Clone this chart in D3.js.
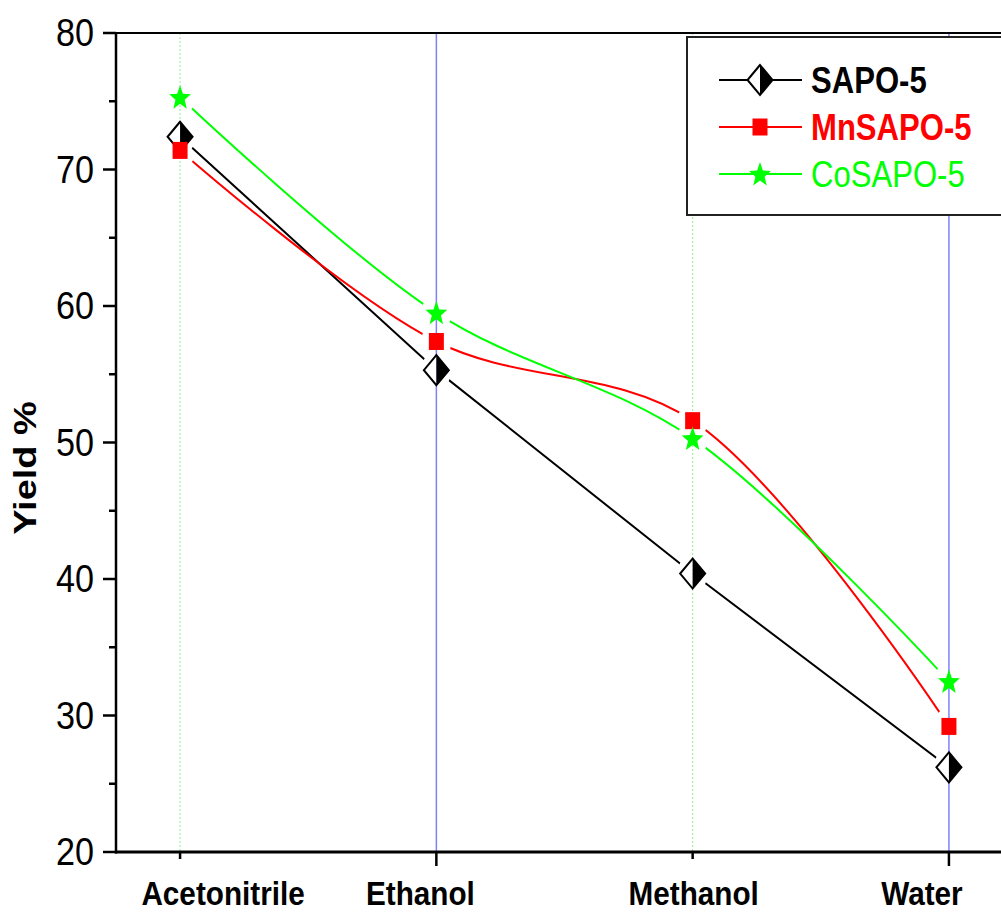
<!DOCTYPE html>
<html>
<head>
<meta charset="utf-8">
<script src="https://cdn.jsdelivr.net/npm/d3@7"></script>
<style>
  body { margin: 0; background: #fff; }
  svg { display: block; font-family: "Liberation Sans", Arial, sans-serif; }
</style>
</head>
<body>
<div id="chart"></div>
<script>
// data
var categories = ["Acetonitrile", "Ethanol", "Methanol", "Water"];
var sapo5   = [72.4, 55.3, 40.4, 26.2];
var mnSapo5 = [71.4, 57.4, 51.6, 29.2];
var coSapo5 = [75.3, 59.5, 50.3, 32.5];
var yTicks  = [20, 30, 40, 50, 60, 70, 80];
var yMinor  = [25, 35, 45, 55, 65, 75];

var W = 1001, H = 914;
var plotLeft = 116, plotTop = 33, plotBottom = 852;

var svg = d3.select("#chart").append("svg")
    .attr("width", W).attr("height", H);

var x = d3.scaleLinear().domain([0.75, 4.25]).range([plotLeft, 1013]);
var y = d3.scaleLinear().domain([20, 80]).range([plotBottom, plotTop]);

var series = [
  {name: "SAPO-5",   values: sapo5,   color: "#000000", marker: "diamond", curve: d3.curveLinear, bold: true},
  {name: "MnSAPO-5", values: mnSapo5, color: "#ff0000", marker: "square",  curve: d3.curveCatmullRom.alpha(0.5), bold: true},
  {name: "CoSAPO-5", values: coSapo5, color: "#00ff00", marker: "star",    curve: d3.curveCatmullRom.alpha(0.5), bold: false}
];

// grid lines: major (blue) at Ethanol / Water, minor (green dotted) at the others
categories.forEach(function(c, i){
  var major = (i % 2 === 1);
  svg.append("line")
    .attr("x1", x(i + 1)).attr("x2", x(i + 1))
    .attr("y1", plotTop).attr("y2", plotBottom)
    .attr("stroke", major ? "#8080ff" : "#90ee90")
    .attr("stroke-width", major ? 1.5 : 1)
    .attr("stroke-dasharray", major ? null : "2,2");
});

// markers
function drawMarker(g, type, color){
  if(type === "diamond"){
    g.append("path").attr("d", "M0,-15L-12.5,0L0,15Z").attr("fill", "#fff");
    g.append("path").attr("d", "M0,-15L12.5,0L0,15Z").attr("fill", "#000");
    g.append("path").attr("d", "M0,-15L-12.5,0L0,15L12.5,0Z")
      .attr("fill", "none").attr("stroke", "#000").attr("stroke-width", 2);
  } else if(type === "square"){
    g.append("rect").attr("x", -7.5).attr("y", -8.5).attr("width", 15).attr("height", 17)
      .attr("fill", color);
  } else {
    var pts = [];
    for(var k = 0; k < 10; k++){
      var r = (k % 2 === 0) ? 13 : 5.5;
      var a = -Math.PI / 2 + k * Math.PI / 5;
      pts.push([Math.cos(a) * r * 0.88, Math.sin(a) * r + 1]);
    }
    g.append("path").attr("d", "M" + pts.join("L") + "Z").attr("fill", color);
  }
}

// lines with a gap round each marker
var defs = svg.append("defs");
var line = d3.line();
series.forEach(function(s, si){
  var mask = defs.append("mask").attr("id", "gap" + si)
      .attr("maskUnits", "userSpaceOnUse")
      .attr("x", 0).attr("y", 0).attr("width", W).attr("height", H);
  mask.append("rect").attr("width", W).attr("height", H).attr("fill", "#fff");
  s.values.forEach(function(v, i){
    mask.append("ellipse").attr("cx", x(i + 1)).attr("cy", y(v))
      .attr("rx", 15).attr("ry", 19).attr("fill", "#000");
  });
  svg.append("path")
    .datum(s.values.map(function(v, i){ return [x(i + 1), y(v)]; }))
    .attr("d", line.curve(s.curve))
    .attr("fill", "none")
    .attr("stroke", s.color)
    .attr("stroke-width", 2)
    .attr("mask", "url(#gap" + si + ")");
});

series.forEach(function(s){
  s.values.forEach(function(v, i){
    var g = svg.append("g").attr("transform", "translate(" + x(i + 1) + "," + y(v) + ")");
    drawMarker(g, s.marker, s.color);
  });
});

// frame
svg.append("line").attr("x1", plotLeft).attr("x2", W).attr("y1", plotTop).attr("y2", plotTop)
  .attr("stroke", "#000").attr("stroke-width", 2);

// y axis
var yAxis = svg.append("g").attr("transform", "translate(" + plotLeft + ",0)");
yAxis.append("line").attr("x1", 0).attr("x2", 0).attr("y1", plotTop - 1).attr("y2", plotBottom + 1.5)
  .attr("stroke", "#000").attr("stroke-width", 2.5);
yTicks.forEach(function(t){
  yAxis.append("line").attr("x1", -13).attr("x2", 0).attr("y1", y(t)).attr("y2", y(t))
    .attr("stroke", "#000").attr("stroke-width", 2.5);
  yAxis.append("text")
    .attr("transform", "translate(-22," + (y(t) + 13) + ") scale(0.9,1)")
    .attr("text-anchor", "end")
    .attr("font-size", 38)
    .text(t);
});
yMinor.forEach(function(t){
  yAxis.append("line").attr("x1", -7).attr("x2", 0).attr("y1", y(t)).attr("y2", y(t))
    .attr("stroke", "#000").attr("stroke-width", 2.5);
});

// x axis
var labelShift = [43, -16, 1, -27];
var xAxis = svg.append("g").attr("transform", "translate(0," + plotBottom + ")");
xAxis.append("line").attr("x1", plotLeft - 1).attr("x2", W).attr("y1", 0).attr("y2", 0)
  .attr("stroke", "#000").attr("stroke-width", 3);
categories.forEach(function(c, i){
  var major = (i % 2 === 1);
  xAxis.append("line").attr("x1", x(i + 1)).attr("x2", x(i + 1))
    .attr("y1", 0).attr("y2", major ? 14 : 7)
    .attr("stroke", "#000").attr("stroke-width", 2.5);
  xAxis.append("text")
    .attr("transform", "translate(" + (x(i + 1) + labelShift[i]) + ",53) scale(0.9,1)")
    .attr("text-anchor", "middle")
    .attr("font-size", 33)
    .attr("font-weight", "bold")
    .text(c);
});

// y title
svg.append("text")
  .attr("transform", "translate(36,468) scale(0.82,1) rotate(-90)")
  .attr("text-anchor", "middle")
  .attr("font-size", 38)
  .attr("font-weight", "bold")
  .text("Yield %");

// legend
var legend = svg.append("g");
legend.append("rect").attr("x", 687).attr("y", 37).attr("width", 330).attr("height", 178)
  .attr("fill", "#fff").attr("stroke", "#222").attr("stroke-width", 2);
series.forEach(function(s, i){
  var ly = 80 + i * 47;
  legend.append("line").attr("x1", 719).attr("x2", 802).attr("y1", ly).attr("y2", ly)
    .attr("stroke", s.color).attr("stroke-width", 2);
  drawMarker(legend.append("g").attr("transform", "translate(760," + ly + ")"), s.marker, s.color);
  legend.append("text")
    .attr("transform", "translate(811," + (ly + 13) + ") scale(0.84,1)")
    .attr("font-size", 37)
    .attr("font-weight", s.bold ? "bold" : "normal")
    .attr("fill", s.color)
    .text(s.name);
});
</script>
</body>
</html>
